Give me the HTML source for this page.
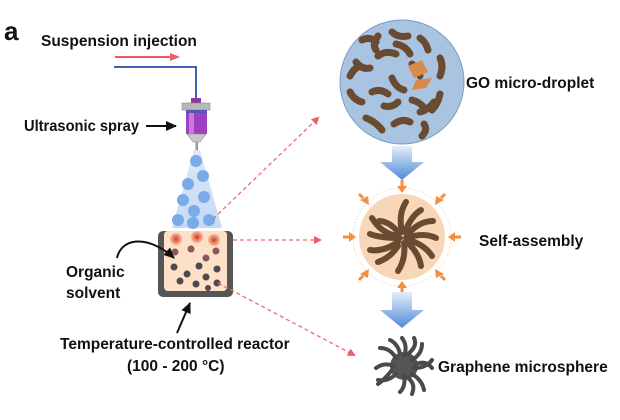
<!DOCTYPE html>
<html><head><meta charset="utf-8"><style>
html,body{margin:0;padding:0;background:#fff;}
svg{display:block;font-family:"Liberation Sans",sans-serif;font-weight:bold;}
</style></head><body>
<svg width="620" height="420" viewBox="0 0 620 420" xmlns="http://www.w3.org/2000/svg">
<defs>
<marker id="ra" markerWidth="8" markerHeight="8" refX="6" refY="4" orient="auto" markerUnits="userSpaceOnUse"><path d="M0,0 L8,4 L0,8 Z" fill="#ee5a66"/></marker>
<marker id="ba" markerWidth="12" markerHeight="12" refX="10" refY="6" orient="auto" markerUnits="userSpaceOnUse"><path d="M0,1 L11,6 L0,11 Z" fill="#111"/></marker>
<linearGradient id="bg" x1="0" y1="0" x2="0" y2="1"><stop offset="0" stop-color="#e4eefa"/><stop offset="1" stop-color="#4f8ad8"/></linearGradient>
<linearGradient id="cone" x1="0" y1="0" x2="0" y2="1"><stop offset="0" stop-color="#dbe8f8"/><stop offset="1" stop-color="#c6daf4"/></linearGradient>
<radialGradient id="rd"><stop offset="0" stop-color="#d2301a"/><stop offset="1" stop-color="#f48c6c" stop-opacity="0.5"/></radialGradient>
</defs>
<text x="4" y="40" font-size="26" font-weight="bold" fill="#111">a</text>
<text x="41" y="46" font-size="15.5" fill="#111">Suspension injection</text>
<line x1="115" y1="57" x2="172" y2="57" stroke="#ee5a66" stroke-width="2"/>
<path d="M170,53 L180,57 L170,61 Z" fill="#ee5a66"/>
<path d="M114,67 L196,67 L196,98" fill="none" stroke="#3a62b0" stroke-width="2"/>
<rect x="191" y="98" width="10" height="5" fill="#8a3aa0"/>
<rect x="182" y="103" width="28" height="7" fill="#b8b8b8" stroke="#888" stroke-width="0.6"/>
<rect x="186" y="110" width="21" height="3" fill="#5058b8"/>
<rect x="186" y="113" width="21" height="21" fill="#a040c0"/>
<rect x="189" y="113" width="5" height="21" fill="#c77ad8"/>
<path d="M187,134 L206,134 L200,142 L193,142 Z" fill="#c8c8c8" stroke="#888" stroke-width="0.6"/>
<rect x="195.5" y="142" width="2.5" height="8" fill="#999"/>
<text x="24" y="131" font-size="15.5" fill="#111" textLength="115" lengthAdjust="spacingAndGlyphs">Ultrasonic spray</text>
<line x1="146" y1="126" x2="176" y2="126" stroke="#111" stroke-width="2" marker-end="url(#ba)"/>
<path d="M194,150 L200,150 L222,228 L172,228 Z" fill="url(#cone)"/>
<g fill="#7aaaea">
<circle cx="196" cy="161" r="6"/><circle cx="203" cy="176" r="6"/><circle cx="188" cy="184" r="6"/>
<circle cx="204" cy="197" r="6"/><circle cx="183" cy="200" r="6"/><circle cx="194" cy="211" r="6"/>
<circle cx="178" cy="220" r="6"/><circle cx="193" cy="223" r="6"/><circle cx="209" cy="220" r="6"/>
</g>
<rect x="158" y="231" width="75" height="66" rx="5" fill="#555"/>
<rect x="164" y="231" width="63" height="60" rx="4" fill="#fde0c6"/>
<g fill="url(#rd)"><circle cx="176" cy="239" r="6"/><circle cx="197" cy="237" r="6"/><circle cx="214" cy="240" r="6"/></g>
<g fill="#8a5a5a"><circle cx="175" cy="252" r="3.5"/><circle cx="191" cy="249" r="3.5"/><circle cx="216" cy="251" r="3.5"/><circle cx="206" cy="258" r="3.5"/></g>
<g fill="#4a4a55"><circle cx="174" cy="267" r="3.5"/><circle cx="199" cy="266" r="3.5"/><circle cx="217" cy="269" r="3.5"/><circle cx="187" cy="274" r="3.5"/><circle cx="206" cy="277" r="3.5"/><circle cx="180" cy="281" r="3.5"/><circle cx="196" cy="284" r="3.5"/><circle cx="217" cy="283" r="3.5"/><circle cx="208" cy="288" r="3"/></g>
<text x="66" y="277" font-size="15.5" fill="#111">Organic</text>
<text x="66" y="298" font-size="15.5" fill="#111">solvent</text>
<path d="M117,258 C122,236 150,236 174,258" fill="none" stroke="#111" stroke-width="2" marker-end="url(#ba)"/>
<line x1="177" y1="333" x2="190" y2="303" stroke="#111" stroke-width="2" marker-end="url(#ba)"/>
<text x="60" y="349" font-size="15.5" fill="#111">Temperature-controlled reactor</text>
<text x="127" y="371" font-size="15.5" fill="#111">(100 - 200 °C)</text>
<g stroke="#ee6a74" stroke-width="1.3" stroke-dasharray="4,3" fill="none">
<line x1="213" y1="219" x2="318" y2="118" marker-end="url(#ra)"/>
<line x1="233" y1="240" x2="320" y2="240" marker-end="url(#ra)"/>
<line x1="218" y1="283" x2="354" y2="355" marker-end="url(#ra)"/>
</g>
<circle cx="402" cy="82" r="62" fill="#a8c4e0" stroke="#7a9cc0" stroke-width="1"/>
<g stroke="#6b4a32" stroke-width="7" stroke-linecap="round" fill="none">
<path d="M362,40 q8,-4 14,2"/><path d="M392,32 q6,6 16,4"/><path d="M420,38 q6,4 8,12"/><path d="M440,58 q4,8 0,18"/>
<path d="M356,62 q6,8 14,6"/><path d="M378,56 q8,-6 18,-2"/><path d="M350,92 q4,8 12,10"/><path d="M372,92 q8,-4 16,2"/>
<path d="M366,118 q10,4 16,12"/><path d="M394,124 q8,-6 16,-2"/><path d="M420,112 q8,-2 14,-10"/><path d="M440,94 q-2,10 -8,16"/>
<path d="M392,78 q4,10 12,12"/><path d="M412,64 q6,4 8,12"/><path d="M384,106 q8,2 14,-4"/><path d="M412,100 q8,2 12,8"/>
<path d="M378,36 q-6,8 -2,14"/><path d="M350,76 q4,-8 10,-10"/><path d="M424,124 q4,6 -2,12"/><path d="M396,44 q10,2 14,10"/>
</g>
<g fill="#d88a4a"><path d="M408,66 l14,-6 l6,12 l-14,6 Z"/><path d="M416,80 l16,-2 l-6,10 l-14,2 Z"/></g>
<text x="466" y="88" font-size="15.5" fill="#111">GO micro-droplet</text>
<path d="M392,146 L412,146 L412,162 L424,162 L402,180 L380,162 L392,162 Z" fill="url(#bg)"/>
<circle cx="402" cy="237" r="49" fill="none" stroke="#f4c8a0" stroke-width="1" stroke-dasharray="1,2"/>
<circle cx="402" cy="237" r="43" fill="#f8d6b8"/>
<g stroke="#6b4a32" stroke-width="6" stroke-linecap="round" fill="none">
<path d="M402,232 q-4,-18 4,-30"/><path d="M407,235 q12,-14 26,-14"/><path d="M408,240 q16,4 24,16"/><path d="M404,243 q2,16 -6,28"/>
<path d="M398,242 q-14,10 -28,8"/><path d="M396,236 q-16,-4 -24,-18"/><path d="M399,233 q-10,-12 -20,-12"/><path d="M405,232 q6,-16 16,-22"/>
<path d="M409,244 q10,10 12,22"/><path d="M398,246 q-8,12 -20,16"/><path d="M400,238 q-20,0 -30,-4"/><path d="M406,238 q18,-6 30,0"/>
</g>
<g stroke="#f09040" stroke-width="3" fill="none">
<line x1="402" y1="180" x2="402" y2="186"/><line x1="402" y1="294" x2="402" y2="288"/>
<line x1="343" y1="237" x2="349" y2="237"/><line x1="461" y1="237" x2="455" y2="237"/>
<line x1="359" y1="194" x2="363" y2="198"/><line x1="445" y1="194" x2="441" y2="198"/>
<line x1="359" y1="280" x2="363" y2="276"/><line x1="445" y1="280" x2="441" y2="276"/>
</g>
<g fill="#f09040">
<path d="M397,186 h10 l-5,7 Z"/><path d="M397,288 h10 l-5,-7 Z"/>
<path d="M349,232 v10 l7,-5 Z"/><path d="M455,232 v10 l-7,-5 Z"/>
<path d="M360,200 l8,-4 l1,9 Z"/><path d="M444,200 l-8,-4 l-1,9 Z"/><path d="M360,274 l8,4 l1,-9 Z"/><path d="M444,274 l-8,4 l-1,-9 Z"/>
</g>
<text x="479" y="246" font-size="15.5" fill="#111">Self-assembly</text>
<path d="M392,292 L412,292 L412,310 L424,310 L402,328 L380,310 L392,310 Z" fill="url(#bg)"/>
<g transform="translate(404,366)" stroke="#4a4a4a" stroke-width="4" stroke-linecap="round" fill="none">
<circle r="14" fill="#555" stroke="none"/>
<path d="M0,-10 q4,-10 -2,-18"/><path d="M8,-6 q10,-6 10,-16"/><path d="M10,2 q12,0 18,-8"/><path d="M8,8 q10,6 12,16"/>
<path d="M0,10 q2,10 -4,16"/><path d="M-8,8 q-8,8 -18,6"/><path d="M-10,0 q-10,-4 -18,2"/><path d="M-8,-8 q-6,-10 -16,-10"/>
<path d="M4,-12 q10,-8 6,-16"/><path d="M12,-2 q10,-4 16,4"/><path d="M4,12 q8,6 4,16"/><path d="M-12,4 q-8,10 -14,14"/><path d="M-4,-12 q-2,-10 -10,-14"/>
</g>
<text x="438" y="372" font-size="15.5" fill="#111">Graphene microsphere</text>
</svg>
</body></html>
